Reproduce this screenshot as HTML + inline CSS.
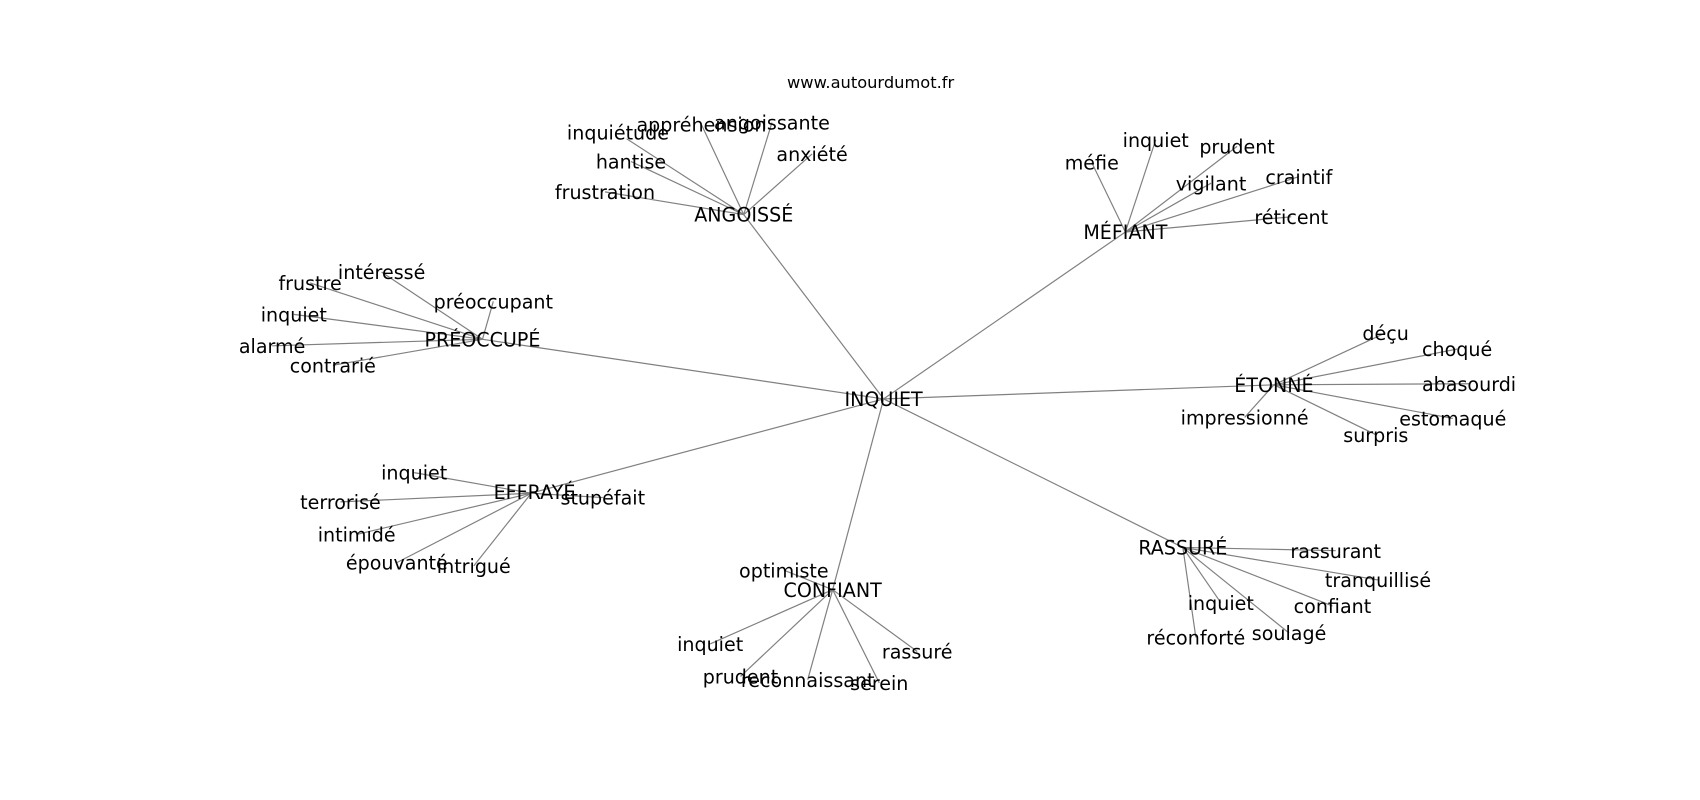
<!DOCTYPE html>
<html><head><meta charset="utf-8"><style>
html,body{margin:0;padding:0;background:#fff;}
svg{display:block;}
text{font-family:"DejaVu Sans","Liberation Sans",sans-serif;fill:#000;text-anchor:middle;dominant-baseline:central;font-size:17.6px;}
line{stroke:#808080;stroke-width:1.1;}
</style></head><body>
<svg width="1700" height="800" viewBox="0 0 1568 738" preserveAspectRatio="none">
<g>
<line x1="815" y1="368" x2="686" y2="198"/>
<line x1="815" y1="368" x2="1038" y2="214"/>
<line x1="815" y1="368" x2="445" y2="313"/>
<line x1="815" y1="368" x2="1175" y2="355"/>
<line x1="815" y1="368" x2="493" y2="454"/>
<line x1="815" y1="368" x2="768" y2="544"/>
<line x1="815" y1="368" x2="1091" y2="505"/>

<line x1="686" y1="198" x2="578" y2="128"/>
<line x1="686" y1="198" x2="647" y2="115"/>
<line x1="686" y1="198" x2="712" y2="113"/>
<line x1="686" y1="198" x2="749" y2="142"/>
<line x1="686" y1="198" x2="582" y2="149"/>
<line x1="686" y1="198" x2="558" y2="177"/>

<line x1="1038" y1="214" x2="1007" y2="150"/>
<line x1="1038" y1="214" x2="1066" y2="129"/>
<line x1="1038" y1="214" x2="1141" y2="135"/>
<line x1="1038" y1="214" x2="1117" y2="169"/>
<line x1="1038" y1="214" x2="1198" y2="163"/>
<line x1="1038" y1="214" x2="1191" y2="200"/>

<line x1="445" y1="313" x2="352" y2="251"/>
<line x1="445" y1="313" x2="286" y2="261"/>
<line x1="445" y1="313" x2="455" y2="278"/>
<line x1="445" y1="313" x2="271" y2="290"/>
<line x1="445" y1="313" x2="251" y2="319"/>
<line x1="445" y1="313" x2="307" y2="337"/>

<line x1="1175" y1="355" x2="1278" y2="307"/>
<line x1="1175" y1="355" x2="1344" y2="322"/>
<line x1="1175" y1="355" x2="1355" y2="354"/>
<line x1="1175" y1="355" x2="1340" y2="386"/>
<line x1="1175" y1="355" x2="1269" y2="401"/>
<line x1="1175" y1="355" x2="1148" y2="385"/>

<line x1="490" y1="455" x2="382" y2="436"/>
<line x1="490" y1="455" x2="314" y2="463"/>
<line x1="490" y1="455" x2="329" y2="493"/>
<line x1="490" y1="455" x2="366" y2="519"/>
<line x1="490" y1="455" x2="437" y2="522"/>
<line x1="490" y1="455" x2="556" y2="459"/>

<line x1="768" y1="544" x2="723" y2="526"/>
<line x1="768" y1="544" x2="655" y2="594"/>
<line x1="768" y1="544" x2="683" y2="624"/>
<line x1="768" y1="544" x2="745" y2="627"/>
<line x1="768" y1="544" x2="811" y2="630"/>
<line x1="768" y1="544" x2="846" y2="601"/>

<line x1="1091" y1="505" x2="1232" y2="508"/>
<line x1="1091" y1="505" x2="1271" y2="535"/>
<line x1="1091" y1="505" x2="1229" y2="559"/>
<line x1="1091" y1="505" x2="1189" y2="584"/>
<line x1="1091" y1="505" x2="1126" y2="556"/>
<line x1="1091" y1="505" x2="1103" y2="588"/>
</g>
<g>
<text x="803" y="76" style="font-size:15px">www.autourdumot.fr</text>
<text x="815" y="369">INQUIET</text>
<text x="686" y="199">ANGOISSÉ</text>
<text x="570" y="123">inquiétude</text>
<text x="647" y="116">appréhension</text>
<text x="712" y="114">angoissante</text>
<text x="749" y="143">anxiété</text>
<text x="582" y="150">hantise</text>
<text x="558" y="178">frustration</text>

<text x="1038" y="215">MÉFIANT</text>
<text x="1007" y="151">méfie</text>
<text x="1066" y="130">inquiet</text>
<text x="1141" y="136">prudent</text>
<text x="1117" y="170">vigilant</text>
<text x="1198" y="164">craintif</text>
<text x="1191" y="201">réticent</text>

<text x="445" y="314">PRÉOCCUPÉ</text>
<text x="352" y="252">intéressé</text>
<text x="286" y="262">frustre</text>
<text x="455" y="279">préoccupant</text>
<text x="271" y="291">inquiet</text>
<text x="251" y="320">alarmé</text>
<text x="307" y="338">contrarié</text>

<text x="1175" y="356">ÉTONNÉ</text>
<text x="1278" y="308">déçu</text>
<text x="1344" y="323">choqué</text>
<text x="1355" y="355">abasourdi</text>
<text x="1340" y="387">estomaqué</text>
<text x="1269" y="402">surpris</text>
<text x="1148" y="386">impressionné</text>

<text x="493" y="455">EFFRAYÉ</text>
<text x="382" y="437">inquiet</text>
<text x="314" y="464">terrorisé</text>
<text x="329" y="494">intimidé</text>
<text x="366" y="520">épouvanté</text>
<text x="437" y="523">intrigué</text>
<text x="556" y="460">stupéfait</text>

<text x="768" y="545">CONFIANT</text>
<text x="723" y="527">optimiste</text>
<text x="655" y="595">inquiet</text>
<text x="683" y="625">prudent</text>
<text x="745" y="628">reconnaissant</text>
<text x="811" y="631">serein</text>
<text x="846" y="602">rassuré</text>

<text x="1091" y="506">RASSURÉ</text>
<text x="1232" y="509">rassurant</text>
<text x="1271" y="536">tranquillisé</text>
<text x="1229" y="560">confiant</text>
<text x="1189" y="585">soulagé</text>
<text x="1126" y="557">inquiet</text>
<text x="1103" y="589">réconforté</text>
</g>
</svg>
</body></html>
